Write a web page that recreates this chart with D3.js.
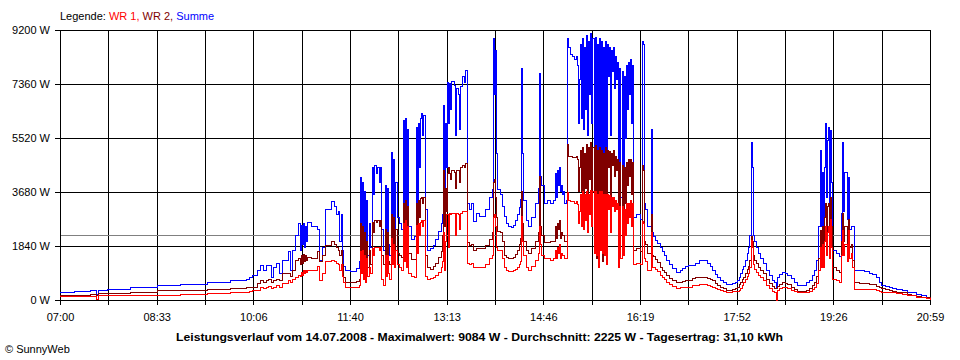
<!DOCTYPE html>
<html><head><meta charset="utf-8">
<script src="https://cdn.jsdelivr.net/npm/d3@7"></script>
<style>
body{margin:0;background:#fff;}
svg{display:block;font-family:"Liberation Sans",Arial,sans-serif;}
</style></head><body>
<svg id="chart" width="960" height="360"></svg>
<script>
// ---- data ----
const times = [
"07:00","07:14","07:29","07:35","07:37","07:46","08:08","08:34","08:56","09:22","09:44","10:00",
"10:03","10:06","10:10","10:13","10:16","10:19","10:21","10:24","10:26","10:29","10:32","10:35",
"10:40","10:42","10:44","10:47","10:50","10:52","10:53","10:54","10:55","10:56","10:57","10:58",
"10:59","11:03","11:08","11:10","11:13","11:16","11:22","11:25","11:27","11:29","11:30","11:31",
"11:32","11:33","11:35","11:40","11:46","11:49","11:50","11:51","11:52","11:53","11:54","11:55",
"11:56","11:57","11:58","11:59","12:01","12:02","12:03","12:05","12:06","12:08","12:09","12:10",
"12:12","12:14","12:15","12:16","12:17","12:18","12:20","12:21","12:22","12:23","12:24","12:25",
"12:27","12:29","12:31","12:32","12:33","12:34","12:35","12:36","12:39","12:42","12:44","12:45",
"12:46","12:47","12:48","12:49","12:50","12:51","12:52","12:54","12:57","13:00","13:02","13:05",
"13:08","13:09","13:10","13:11","13:12","13:13","13:14","13:15","13:16","13:17","13:18","13:20",
"13:21","13:22","13:24","13:25","13:26","13:28","13:30","13:31","13:33","13:35","13:37","13:39",
"13:42","13:45","13:50","13:54","13:57","13:58","13:59","14:00","14:01","14:02","14:05","14:07",
"14:09","14:11","14:13","14:15","14:17","14:19","14:21","14:23",
"14:24","14:25","14:26","14:27","14:30","14:32","14:35","14:39","14:41",
"14:42","14:43","14:44","14:47","14:50","14:53","14:56","14:58","14:59","15:00","15:01","15:02",
"15:03","15:04","15:05","15:06","15:07","15:08","15:09","15:10","15:12","15:14","15:16","15:18",
"15:19","15:20","15:21","15:22","15:23","15:24","15:25","15:26","15:27","15:28","15:29","15:30",
"15:31","15:32","15:33","15:34","15:35","15:36","15:37","15:38","15:39","15:40","15:41","15:42",
"15:43","15:44","15:45","15:46","15:47","15:48","15:49","15:50","15:51","15:52","15:53","15:54",
"15:55","15:56","15:57","15:58","15:59","16:00","16:01","16:02","16:03","16:04","16:05","16:06",
"16:07","16:08","16:09","16:10","16:11","16:12","16:13","16:16","16:20","16:22","16:23","16:24",
"16:25","16:27","16:30","16:31",
"16:32","16:34","16:36","16:39","16:41","16:43","16:45","16:48","16:51","16:55","16:58","17:00",
"17:03","17:06","17:10","17:13","17:17","17:20","17:24","17:27","17:29","17:32","17:34","17:37",
"17:40","17:43","17:46","17:49","17:51","17:53","17:55","17:56","17:58","17:59","18:01","18:03",
"18:04","18:05","18:07","18:08","18:09","18:10","18:12","18:14","18:16","18:18","18:21","18:24",
"18:27","18:29","18:31","18:32","18:34","18:37","18:40","18:42","18:45","18:48","18:51","18:56",
"19:00","19:03","19:06","19:08","19:10","19:11","19:13","19:14","19:15","19:16","19:17","19:18",
"19:19","19:20","19:21","19:22","19:23","19:24","19:25","19:29","19:32","19:34","19:35","19:36",
"19:37","19:39","19:40","19:41","19:43","19:44","19:46","19:51","19:56","20:01","20:04","20:07",
"20:10","20:12","20:16","20:20","20:23","20:27","20:32","20:37","20:41","20:46","20:51","20:56","20:59"];

const summe = [
270,300,320,200,330,350,420,490,540,590,650,700,
780,850,1020,1160,1000,1160,1160,780,1100,1260,920,1360,
1640,1020,1700,2210,2620,1700,2550,1900,2600,1800,2500,2000,
2650,2500,2390,1360,1800,3070,3340,3200,2900,3000,2000,2900,
1700,1150,1020,980,1090,1300,4190,2000,4000,1500,3700,1200,
3400,1500,2600,1800,4500,3600,4600,4300,4500,4000,4500,2390,
1700,3900,2000,3800,1900,1500,5040,2500,4800,2400,4000,2800,
2600,2400,6100,3000,6200,2500,5800,2500,2060,2150,5890,3000,
6000,4500,6200,6370,5600,6300,3070,1700,1750,1850,2060,2350,
2600,2900,6640,3500,6000,4500,7400,6000,7390,6500,7430,7300,
5600,7200,7000,5800,7260,7600,7400,7830,3300,3070,3300,2660,
2960,2830,3070,3500,3750,8900,7000,8500,5000,3750,3600,3200,
2830,2600,2490,2480,2550,2700,2900,3150,
3410,7900,5000,3400,2700,2500,2800,3300,3800,
7730,4200,3900,3300,3380,3300,3400,4300,3500,4400,3900,4500,
3700,3900,3600,3700,3300,3400,8900,8600,8350,8300,8200,8300,
8000,6000,7500,8700,6200,8900,5800,8600,6500,9000,5600,8800,
7000,9084,6000,8900,4000,8950,2000,8700,2500,8900,4500,8800,
2000,8600,3500,8800,2200,8700,7600,8600,5600,8500,7800,8600,
7200,8300,7500,8100,2500,7900,3500,7800,2600,7600,5500,8000,
6500,8100,7000,8200,6000,8000,2800,2900,2750,8800,8700,3300,
3100,2500,5800,2300,
2150,2030,1920,1800,1650,1500,1360,1200,1060,950,1000,1090,
1130,1160,1160,1250,1360,1330,1260,1140,1020,880,780,680,
600,540,540,560,600,650,780,920,1050,1150,1360,1600,
1800,2210,5350,4530,2200,2000,1800,1600,1420,1260,1000,820,
680,600,440,780,880,950,900,850,720,600,510,500,
580,680,850,1020,1360,2490,5110,2500,4330,2500,4500,6030,
3500,5450,5890,3000,5790,4000,1700,1600,1470,2960,5350,3000,
4330,2730,4190,2400,2490,2490,1020,1000,960,920,880,750,
600,510,470,430,400,350,310,270,240,200,150,100,30];

const wr2 = [
150,170,200,170,220,230,270,310,330,360,400,430,
440,440,560,680,600,680,700,600,680,700,650,920,
920,800,1000,1360,1400,1200,1500,1250,1550,1300,1500,1350,
1460,1400,1650,1300,1500,1870,1980,1900,1800,1700,1500,1700,
1200,780,600,590,620,700,2600,1300,2500,1000,2300,900,
2000,1100,1700,1200,2650,2300,2700,2650,2700,2500,2700,1500,
1200,2400,1400,2300,1300,1200,2900,1600,2800,1500,2400,1600,
1500,1450,3300,2000,3400,1800,3200,1600,1370,1370,3300,2200,
3400,2800,3450,3500,3300,3500,1500,1100,1050,1150,1250,1450,
1650,2200,4400,2500,3800,3000,4300,4500,4300,4100,4400,4350,
3800,4400,4400,4000,4500,4600,4500,4650,1950,1850,1900,1700,
1750,1750,1850,2050,2300,4000,4100,3500,2800,2350,2300,2000,
1500,1450,1400,1400,1450,1550,1700,1900,
2100,3700,2600,2000,1700,1600,1750,2000,2300,
4200,2500,2200,1950,1950,2000,2000,2500,2100,2600,2400,2700,
2100,2300,2200,2200,2000,2000,5300,4900,4900,4850,4850,4900,
4800,3700,4500,5100,3700,5200,3400,5000,3800,5300,3300,5200,
4100,5350,3500,5200,2400,5250,1400,5100,1600,5200,2800,5100,
1300,5000,2200,5200,1700,5100,4500,5050,3300,5000,4600,5100,
4200,4900,4400,4800,1600,4700,2200,4600,1700,4500,3300,4700,
3900,4800,4200,4800,3600,4700,1700,1750,1650,4600,4400,2000,
1900,1600,2900,1500,
1470,1380,1270,1120,1020,940,850,740,660,580,600,630,
660,680,720,750,780,770,740,700,650,570,510,440,
380,340,340,350,390,440,520,600,700,780,900,1050,
1150,1360,2150,2000,1500,1350,1250,1100,1000,900,700,560,
450,400,400,450,520,580,560,540,440,360,300,280,
340,400,500,600,800,1400,2380,1500,2500,1600,2800,3300,
2200,3200,3300,2000,3500,2500,1100,1000,950,2000,2960,2000,
2500,1600,2730,1800,1900,1360,580,560,550,540,520,470,
430,400,360,320,300,270,240,200,170,130,100,70,20];

const wr1 = [
110,110,110,30,150,160,160,170,200,230,250,260,
300,340,340,440,400,440,450,400,440,480,440,560,
680,600,700,750,850,800,950,850,1000,900,1000,950,
1000,1020,1130,680,900,1300,1360,1300,1250,1200,1000,1200,
800,580,440,420,440,500,1650,900,1700,700,1500,600,
1400,800,1100,900,1750,1500,1800,1780,1800,1700,1800,700,
500,1500,800,1500,900,700,2100,1200,1900,1100,1700,1200,
1100,1000,2600,1300,2700,1100,2500,900,800,780,2550,1600,
2600,2200,2650,2700,2500,2700,800,700,720,780,850,930,
1100,1300,2300,1000,2000,2900,2900,1800,2950,2900,2950,2950,
2200,2950,2900,2400,2950,3000,3000,3000,1250,1200,1250,1100,
1100,1100,1200,1400,1500,2800,2900,2500,1800,1700,1700,1400,
1100,1020,980,980,1000,1050,1100,1200,
1300,2830,2000,1500,1100,1000,1150,1350,1600,
2500,1900,1500,1400,1400,1350,1400,1700,1400,1800,1600,1900,
1400,1600,1500,1500,1400,1400,3650,3400,3350,3350,3300,3350,
3250,2600,3000,3600,2500,3700,2400,3600,2700,3700,2300,3600,
2900,3730,2500,3700,1600,3700,1500,3600,1100,3700,1700,3700,
1600,3600,1500,3600,1200,3600,3100,3550,2300,3500,3200,3500,
3000,3400,3100,3300,1100,3200,1400,3200,1500,3100,2200,3300,
2600,3300,2800,3400,2500,3300,1200,1250,1200,2660,2600,1400,
1300,1000,2300,1100,
1120,1050,960,850,760,690,610,520,460,400,410,420,
430,440,480,510,540,530,500,470,430,400,370,320,
290,270,270,280,290,300,340,380,500,580,700,800,
900,1120,2040,1800,1200,1050,950,850,750,650,480,380,
300,240,0,340,400,440,420,400,330,280,240,240,
270,300,360,420,550,1000,1800,1100,1900,1100,2000,2490,
1500,2300,2500,1400,2730,1800,700,650,600,1500,2380,1500,
1900,1300,2380,1400,1600,1120,370,370,365,360,350,320,
290,270,260,250,240,220,190,170,140,100,75,50,10];

const xTickLabels = ["07:00","08:33","10:06","11:40","13:13","14:46","16:19","17:52","19:26","20:59"];
const yTicks = [0, 1840, 3680, 5520, 7360, 9200];
const average = 2225;
const seriesNames = ["WR 1", "WR 2", "Summe"];
const seriesColors = ["#ff0000", "#800000", "#0000ff"];
const titleText = "Leistungsverlauf vom 14.07.2008 - Maximalwert: 9084 W - Durchschnitt: 2225 W - Tagesertrag: 31,10 kWh";
const copyright = "\u00A9 SunnyWeb";

// ---- chart ----
const parse = d3.timeParse("%H:%M");
const t0 = parse(xTickLabels[0]), t1 = parse(xTickLabels[xTickLabels.length - 1]);
const x = d3.scaleTime().domain([t0, t1]).range([60, 930]);
const y = d3.scaleLinear().domain([0, 9200]).range([300, 30]);
const svg = d3.select("#chart");
const crisp = v => Math.round(v) + 0.5;

const nMaj = xTickLabels.length - 1;
const gridTimes = d3.range(0, 2 * nMaj + 1).map(k => new Date(+t0 + (t1 - t0) * k / (2 * nMaj)));

// grid
const grid = svg.append("g").attr("shape-rendering", "crispEdges");
grid.selectAll("line.v").data(gridTimes).enter().append("line")
  .attr("x1", d => crisp(x(d))).attr("x2", d => crisp(x(d)))
  .attr("y1", y(9200)).attr("y2", y(0))
  .attr("stroke", "#000").attr("stroke-width", 1);
grid.selectAll("line.h").data(yTicks).enter().append("line")
  .attr("x1", 60).attr("x2", x(t1) + 1)
  .attr("y1", d => crisp(y(d))).attr("y2", d => crisp(y(d)))
  .attr("stroke", "#000").attr("stroke-width", 1);

// average line
svg.append("line")
  .attr("x1", 61).attr("x2", x(t1))
  .attr("y1", crisp(y(average))).attr("y2", crisp(y(average)))
  .attr("stroke", "#808080").attr("stroke-width", 1).attr("shape-rendering", "crispEdges");

// axes
const yAxis = svg.append("g").attr("transform", "translate(60,0)")
  .call(d3.axisLeft(y).tickValues(yTicks).tickFormat(d => d + " W").tickSize(5).tickSizeOuter(0).tickPadding(5));
const xAxis = svg.append("g").attr("transform", "translate(0,300)")
  .call(d3.axisBottom(x).tickValues(gridTimes)
    .tickFormat((d, i) => i % 2 === 0 ? xTickLabels[i / 2] : "").tickSize(5).tickSizeOuter(0).tickPadding(8));
[yAxis, xAxis].forEach(g => {
  g.attr("font-family", "'Liberation Sans', Arial, sans-serif").attr("font-size", 11);
  g.selectAll("line,path").attr("stroke", "#000").attr("shape-rendering", "crispEdges");
  g.selectAll("text").attr("fill", "#000");
});

// series
const line = d3.line().x(d => x(d.t)).y(d => y(d.v)).curve(d3.curveStepAfter);
const tParsed = times.map(parse);
const seriesValues = [wr1, wr2, summe];
const drawOrder = [2, 1, 0];
drawOrder.forEach(si => {
  const vals = seriesValues[si];
  const pts = tParsed.map((t, i) => ({ t: t, v: vals[i] })).filter(d => d.v !== undefined);
  svg.append("path").datum(pts)
    .attr("d", line)
    .attr("fill", "none")
    .attr("stroke", seriesColors[si])
    .attr("stroke-width", 1)
    .attr("shape-rendering", "crispEdges");
});

// legend
const leg = svg.append("text").attr("x", 60).attr("y", 20).attr("font-size", 11);
leg.append("tspan").attr("fill", "#000").text("Legende: ");
seriesNames.forEach((n, i) => {
  leg.append("tspan").attr("fill", seriesColors[i]).text(n + (i < seriesNames.length - 1 ? ", " : ""));
});

// title
svg.append("text").attr("x", 176).attr("y", 340.5)
  .attr("font-size", 11).attr("font-weight", "bold").attr("fill", "#000")
  .attr("textLength", 607).attr("lengthAdjust", "spacingAndGlyphs")
  .text(titleText);

// copyright
svg.append("text").attr("x", 5).attr("y", 353).attr("font-size", 11).attr("fill", "#000").text(copyright);

if (!(times.length === summe.length && times.length === wr1.length && times.length === wr2.length)) {
  console.error("length mismatch", times.length, summe.length, wr1.length, wr2.length);
}
</script>
</body></html>
